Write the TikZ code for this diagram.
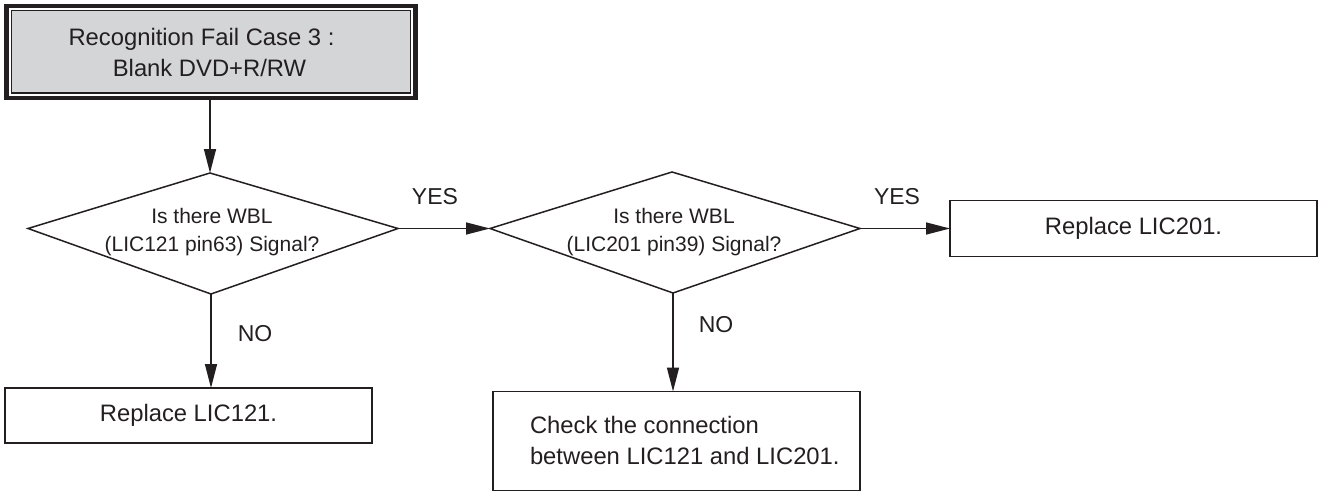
\documentclass[tikz,border=0pt]{standalone}
\usepackage{fontspec}
\setmainfont{Liberation Sans}
\usetikzlibrary{arrows.meta}
\definecolor{ink}{RGB}{35,31,32}
\definecolor{boxgray}{RGB}{212,213,215}
\begin{document}
\begin{tikzpicture}[x=1pt,y=-1pt,
  every node/.style={inner sep=0pt, outer sep=0pt, text=ink},
  frame/.style={draw=ink, line width=1.6pt, rectangle},
  boxfont/.style={font=\fontsize{23.8}{31}\selectfont},
  dfont/.style={font=\fontsize{21}{28}\selectfont, align=center},
  lbl/.style={font=\fontsize{23}{28}\selectfont},
  link/.style={draw=ink, line width=1.5pt, -{Triangle[length=24pt,width=12pt]}},
  dline/.style={draw=ink, line width=1.5pt, line join=miter}
]
\useasboundingbox (0,0) rectangle (1319,492);

% start box (double frame)
\node[draw=ink, line width=4.5pt, minimum width=409pt, minimum height=92pt] (start) at (211,52) {};
\node[draw=ink, line width=1.2pt, fill=boxgray, minimum width=399pt, minimum height=82.5pt] (startin) at (211,51.75) {};
\node[boxfont, align=center] (starttxt) at (201.5,52.5) {Recognition Fail Case 3 :\\\hspace*{16pt}Blank DVD+R/RW};

% decision 1
\coordinate (d1t) at (210,173);
\coordinate (d1l) at (28,228.5);
\coordinate (d1r) at (398,228.5);
\coordinate (d1b) at (211,294);
\draw[dline] (d1t) -- (d1r) -- (d1b) -- (d1l) -- cycle;
\node[dfont] (d1txt) at (212,232.5) {Is there WBL\\(LIC121 pin63) Signal?};

% decision 2
\coordinate (d2t) at (672,172);
\coordinate (d2l) at (490,228.5);
\coordinate (d2r) at (860,228.5);
\coordinate (d2b) at (673,293);
\draw[dline] (d2t) -- (d2r) -- (d2b) -- (d2l) -- cycle;
\node[dfont] (d2txt) at (674,232.5) {Is there WBL\\(LIC201 pin39) Signal?};

% result boxes
\node[frame, boxfont, minimum width=367pt, minimum height=55pt] (r121) at (188.5,415.5) {Replace LIC121.};
\node[frame, boxfont, minimum width=367pt, minimum height=56pt] (r201) at (1133.5,228.5) {Replace LIC201.};
\node[frame, minimum width=367pt, minimum height=99pt] (conn) at (676.5,441) {};
\node[boxfont, align=left, anchor=west] (conntxt) at (530,440) {Check the connection\\between LIC121 and LIC201.};

% connectors
\draw[link] (d1t |- start.south) -- (d1t);
\draw[link] (d1r) -- (d2l);
\draw[link] (d2r) -- (r201.west);
\draw[link] (d1b) -- (d1b |- r121.north);
\draw[link] (d2b) -- (d2b |- conn.north);

% labels
\node[lbl] (yes1) at (435,197) {YES};
\node[lbl] (yes2) at (897,197) {YES};
\node[lbl] (no1) at (255,334) {NO};
\node[lbl] (no2) at (716,325) {NO};
\end{tikzpicture}
\end{document}
